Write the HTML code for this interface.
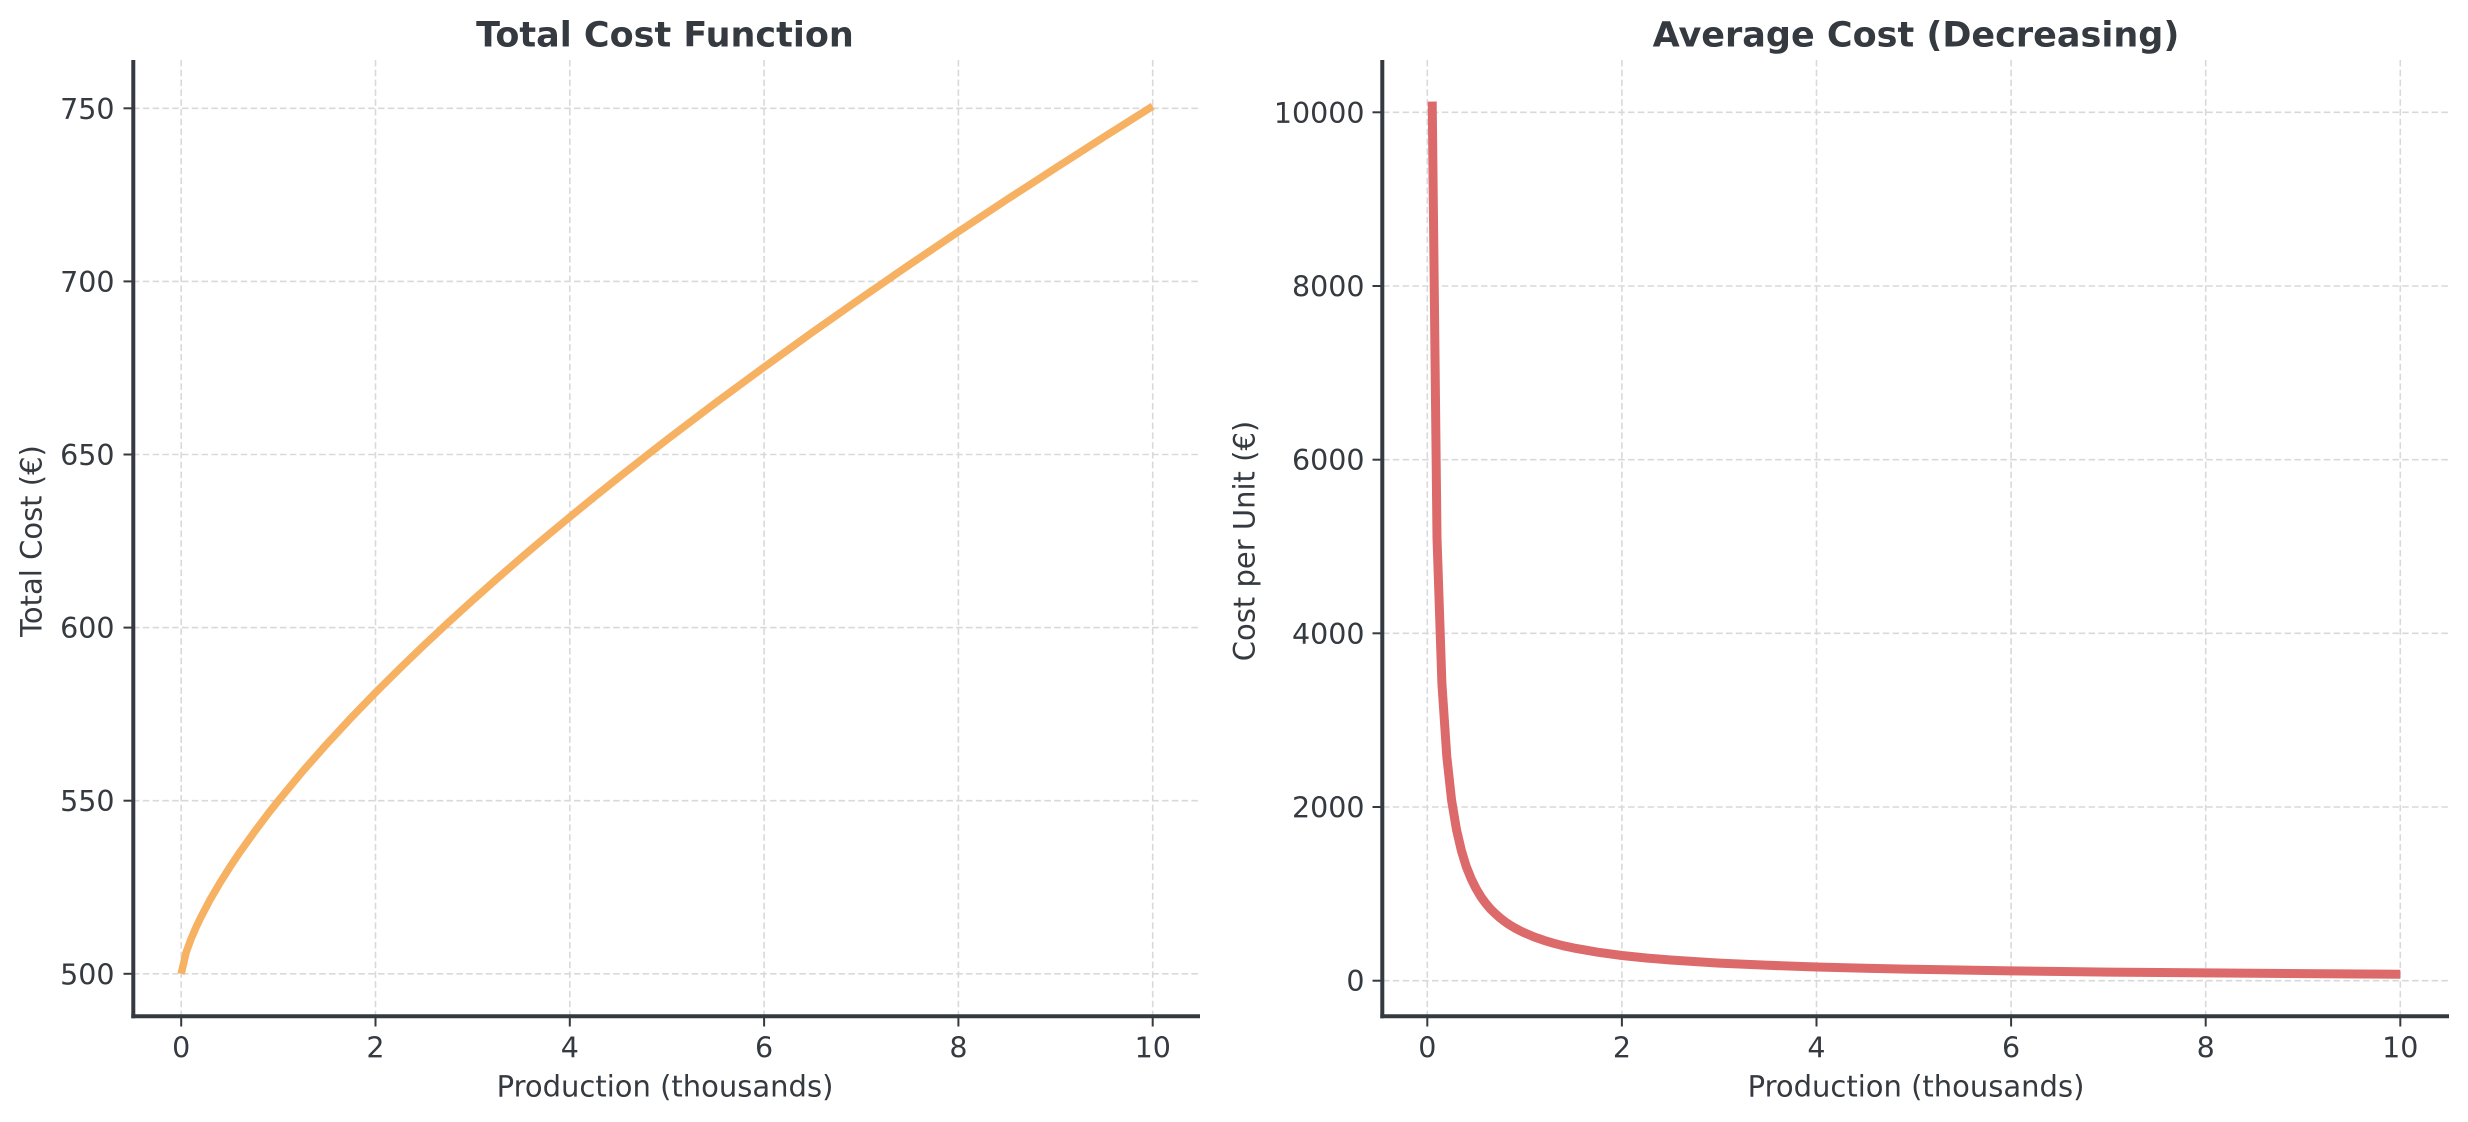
<!DOCTYPE html>
<html><head><meta charset="utf-8"><style>
html,body{margin:0;padding:0;background:#fff;}
svg{display:block;}
text{font-family:"DejaVu Sans","Liberation Sans",sans-serif;fill:#343a40;}
</style></head><body>
<svg width="2468" height="1122" viewBox="0 0 2468 1122" xmlns="http://www.w3.org/2000/svg">
<rect width="2468" height="1122" fill="#fff"/>

<!-- ===== LEFT AXES ===== -->
<g stroke="#d9d9d9" stroke-width="1.6" stroke-dasharray="6.5 3.3" fill="none">
  <line x1="181.2" y1="60" x2="181.2" y2="1016"/>
  <line x1="375.5" y1="60" x2="375.5" y2="1016"/>
  <line x1="569.8" y1="60" x2="569.8" y2="1016"/>
  <line x1="764.1" y1="60" x2="764.1" y2="1016"/>
  <line x1="958.4" y1="60" x2="958.4" y2="1016"/>
  <line x1="1152.7" y1="60" x2="1152.7" y2="1016"/>
  <line x1="133" y1="973.8" x2="1200" y2="973.8"/>
  <line x1="133" y1="800.7" x2="1200" y2="800.7"/>
  <line x1="133" y1="627.6" x2="1200" y2="627.6"/>
  <line x1="133" y1="454.5" x2="1200" y2="454.5"/>
  <line x1="133" y1="281.4" x2="1200" y2="281.4"/>
  <line x1="133" y1="108.3" x2="1200" y2="108.3"/>
</g>
<polyline fill="none" stroke="#f6b162" stroke-width="7.5" stroke-linejoin="round" stroke-linecap="butt"
 points="181.2,973.8 186.1,952.5 190.9,939.3 195.8,927.9 200.6,917.7 210.3,899.3 220.1,882.6 229.8,867.2 239.5,852.7 254.1,832.3 268.6,813.0 278.4,800.7 302.6,771.4 326.9,743.9 351.2,717.7 375.5,692.6 399.8,668.5 424.1,645.1 448.4,622.4 472.7,600.3 496.9,578.8 521.2,557.7 545.5,537.1 569.8,517.0 594.1,497.2 618.4,477.7 642.7,458.6 666.9,439.7 715.5,402.9 764.1,367.1 812.7,332.1 861.3,297.9 909.8,264.5 958.4,231.7 1007.0,199.5 1055.6,168.0 1104.1,136.9 1152.7,106.2"/>
<!-- spines -->
<g stroke="#343a40" stroke-width="4">
  <line x1="133.3" y1="60" x2="133.3" y2="1018.3"/>
  <line x1="131.3" y1="1016.3" x2="1200" y2="1016.3"/>
</g>
<!-- ticks -->
<g stroke="#343a40" stroke-width="2">
  <line x1="181.2" y1="1018" x2="181.2" y2="1026.5"/>
  <line x1="375.5" y1="1018" x2="375.5" y2="1026.5"/>
  <line x1="569.8" y1="1018" x2="569.8" y2="1026.5"/>
  <line x1="764.1" y1="1018" x2="764.1" y2="1026.5"/>
  <line x1="958.4" y1="1018" x2="958.4" y2="1026.5"/>
  <line x1="1152.7" y1="1018" x2="1152.7" y2="1026.5"/>
  <line x1="123.5" y1="973.8" x2="131.5" y2="973.8"/>
  <line x1="123.5" y1="800.7" x2="131.5" y2="800.7"/>
  <line x1="123.5" y1="627.6" x2="131.5" y2="627.6"/>
  <line x1="123.5" y1="454.5" x2="131.5" y2="454.5"/>
  <line x1="123.5" y1="281.4" x2="131.5" y2="281.4"/>
  <line x1="123.5" y1="108.3" x2="131.5" y2="108.3"/>
</g>
<g font-size="28.5" text-anchor="middle">
  <text x="181.2" y="1057.5">0</text>
  <text x="375.5" y="1057.5">2</text>
  <text x="569.8" y="1057.5">4</text>
  <text x="764.1" y="1057.5">6</text>
  <text x="958.4" y="1057.5">8</text>
  <text x="1152.7" y="1057.5">10</text>
</g>
<g font-size="28.5" text-anchor="end">
  <text x="114.5" y="984.3">500</text>
  <text x="114.5" y="811.2">550</text>
  <text x="114.5" y="638.1">600</text>
  <text x="114.5" y="465">650</text>
  <text x="114.5" y="291.9">700</text>
  <text x="114.5" y="118.8">750</text>
</g>
<text x="665" y="1096.7" font-size="29" text-anchor="middle">Production (thousands)</text>
<text transform="translate(41.5,541) rotate(-90)" font-size="29" text-anchor="middle">Total Cost (€)</text>
<text x="665" y="46.5" font-size="35" font-weight="bold" text-anchor="middle">Total Cost Function</text>

<!-- ===== RIGHT AXES ===== -->
<g stroke="#d9d9d9" stroke-width="1.6" stroke-dasharray="6.5 3.3" fill="none">
  <line x1="1427.3" y1="60" x2="1427.3" y2="1016"/>
  <line x1="1621.9" y1="60" x2="1621.9" y2="1016"/>
  <line x1="1816.5" y1="60" x2="1816.5" y2="1016"/>
  <line x1="2011.1" y1="60" x2="2011.1" y2="1016"/>
  <line x1="2205.7" y1="60" x2="2205.7" y2="1016"/>
  <line x1="2400.3" y1="60" x2="2400.3" y2="1016"/>
  <line x1="1383" y1="980.7" x2="2449" y2="980.7"/>
  <line x1="1383" y1="807.0" x2="2449" y2="807.0"/>
  <line x1="1383" y1="633.3" x2="2449" y2="633.3"/>
  <line x1="1383" y1="459.7" x2="2449" y2="459.7"/>
  <line x1="1383" y1="286.0" x2="2449" y2="286.0"/>
  <line x1="1383" y1="112.3" x2="2449" y2="112.3"/>
</g>
<polyline fill="none" stroke="#dc6a6a" stroke-width="9" stroke-linejoin="round" stroke-linecap="butt"
 points="1432.2,101.6 1437.0,537.8 1441.9,683.6 1446.8,756.6 1451.6,800.4 1456.5,829.7 1461.4,850.7 1466.2,866.4 1471.1,878.6 1476.0,888.5 1480.8,896.6 1485.7,903.3 1490.5,909.0 1495.4,913.8 1500.3,918.1 1505.1,921.8 1510.0,925.1 1514.9,928.0 1519.7,930.6 1524.6,932.9 1534.3,937.0 1544.1,940.4 1553.8,943.3 1563.5,945.8 1573.3,947.9 1597.6,952.2 1621.9,955.5 1646.2,958.0 1670.5,960.0 1719.2,963.1 1767.9,965.3 1816.5,967.0 1865.2,968.3 1913.8,969.3 2011.1,970.9 2108.4,972.1 2205.7,972.9 2303.0,973.6 2400.3,974.2"/>
<g stroke="#343a40" stroke-width="4">
  <line x1="1382.3" y1="60" x2="1382.3" y2="1018.3"/>
  <line x1="1380.3" y1="1016.3" x2="2449" y2="1016.3"/>
</g>
<g stroke="#343a40" stroke-width="2">
  <line x1="1427.3" y1="1018" x2="1427.3" y2="1026.5"/>
  <line x1="1621.9" y1="1018" x2="1621.9" y2="1026.5"/>
  <line x1="1816.5" y1="1018" x2="1816.5" y2="1026.5"/>
  <line x1="2011.1" y1="1018" x2="2011.1" y2="1026.5"/>
  <line x1="2205.7" y1="1018" x2="2205.7" y2="1026.5"/>
  <line x1="2400.3" y1="1018" x2="2400.3" y2="1026.5"/>
  <line x1="1372.5" y1="980.7" x2="1380.5" y2="980.7"/>
  <line x1="1372.5" y1="807.0" x2="1380.5" y2="807.0"/>
  <line x1="1372.5" y1="633.3" x2="1380.5" y2="633.3"/>
  <line x1="1372.5" y1="459.7" x2="1380.5" y2="459.7"/>
  <line x1="1372.5" y1="286.0" x2="1380.5" y2="286.0"/>
  <line x1="1372.5" y1="112.3" x2="1380.5" y2="112.3"/>
</g>
<g font-size="28.5" text-anchor="middle">
  <text x="1427.3" y="1057.5">0</text>
  <text x="1621.9" y="1057.5">2</text>
  <text x="1816.5" y="1057.5">4</text>
  <text x="2011.1" y="1057.5">6</text>
  <text x="2205.7" y="1057.5">8</text>
  <text x="2400.3" y="1057.5">10</text>
</g>
<g font-size="28.5" text-anchor="end">
  <text x="1364.5" y="991.2">0</text>
  <text x="1364.5" y="817.5">2000</text>
  <text x="1364.5" y="643.8">4000</text>
  <text x="1364.5" y="470.2">6000</text>
  <text x="1364.5" y="296.5">8000</text>
  <text x="1364.5" y="122.8">10000</text>
</g>
<text x="1916" y="1096.7" font-size="29" text-anchor="middle">Production (thousands)</text>
<text transform="translate(1254.5,541) rotate(-90)" font-size="29" text-anchor="middle">Cost per Unit (€)</text>
<text x="1916" y="46.5" font-size="35" font-weight="bold" text-anchor="middle">Average Cost (Decreasing)</text>
</svg>
</body></html>
